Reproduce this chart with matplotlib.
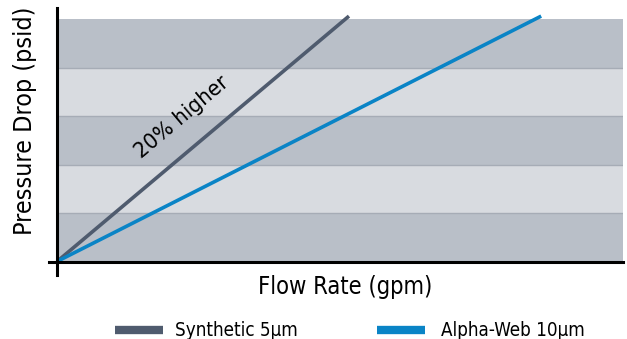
import matplotlib
matplotlib.use("Agg")
import matplotlib.pyplot as plt
from matplotlib.lines import Line2D

plt.rcParams['font.family'] = ['DejaVu Sans']
plt.rcParams['font.stretch'] = 'condensed'

# Data (arbitrary units)
series_names = ["Synthetic 5µm", "Alpha-Web 10µm"]
synthetic_flow = [0, 6.03]
synthetic_dp = [0, 5.06]
alphaweb_flow = [0, 10.0]
alphaweb_dp = [0, 5.06]
band_edges = [0, 1, 2, 3, 4, 5]
annotation = "20% higher"
xlabel = "Flow Rate (gpm)"
ylabel = "Pressure Drop (psid)"

c_syn = "#4f5b6e"
c_alpha = "#0a84c6"
c_dark = "#b9bfc8"
c_light = "#d8dbe0"
c_edge = "#a6acb6"

W, H = 627, 339
fig = plt.figure(figsize=(W / 100, H / 100), dpi=100)
ax = fig.add_axes([57 / W, 1 - 261.5 / H, (623 - 57) / W, (261.5 - 8) / H])

xmax = 11.69
ymax = 5.227
ax.set_xlim(0, xmax)
ax.set_ylim(0, ymax)

for i in range(len(band_edges) - 1):
    col = c_dark if i % 2 == 0 else c_light
    ax.axhspan(band_edges[i], band_edges[i + 1], color=col, lw=0, zorder=0)
for e in band_edges[1:-1]:
    ax.axhline(e, color=c_edge, lw=1.0, zorder=1)

ax.plot(synthetic_flow, synthetic_dp, color=c_syn, lw=2.6, zorder=3,
        solid_capstyle='butt', clip_on=False)
ax.plot(alphaweb_flow, alphaweb_dp, color=c_alpha, lw=2.6, zorder=3,
        solid_capstyle='butt', clip_on=False)

for s in ax.spines.values():
    s.set_visible(False)
ax.set_xticks([])
ax.set_yticks([])

# axis lines (extending slightly past origin)
ax.plot([-0.17, xmax], [0, 0], color="black", lw=2.2, clip_on=False, zorder=4)
ax.plot([0, 0], [-0.28, ymax], color="black", lw=2.2, clip_on=False, zorder=4)

ax.text(2.58, 2.98, annotation, rotation=40, ha='center', va='center',
        fontsize=16, color="black", rotation_mode='anchor', zorder=5)

fig.text(345 / W, 1 - 287 / H, xlabel, ha='center', va='center', fontsize=17)
fig.text(25 / W, 1 - 121 / H, ylabel, ha='center', va='center', fontsize=18,
         rotation=90)

# legend drawn manually in figure pixel positions
legend_y = 1 - 330 / H
legend_items = [(115, 163, 175, c_syn), (377, 425, 441, c_alpha)]
for (x0, x1, tx, col), name in zip(legend_items, series_names):
    fig.add_artist(Line2D([x0 / W, x1 / W], [legend_y, legend_y], color=col,
                          lw=6, solid_capstyle='butt',
                          transform=fig.transFigure))
    fig.text(tx / W, legend_y, name, ha='left', va='center', fontsize=13.5)

fig.savefig("out.png", dpi=100)
